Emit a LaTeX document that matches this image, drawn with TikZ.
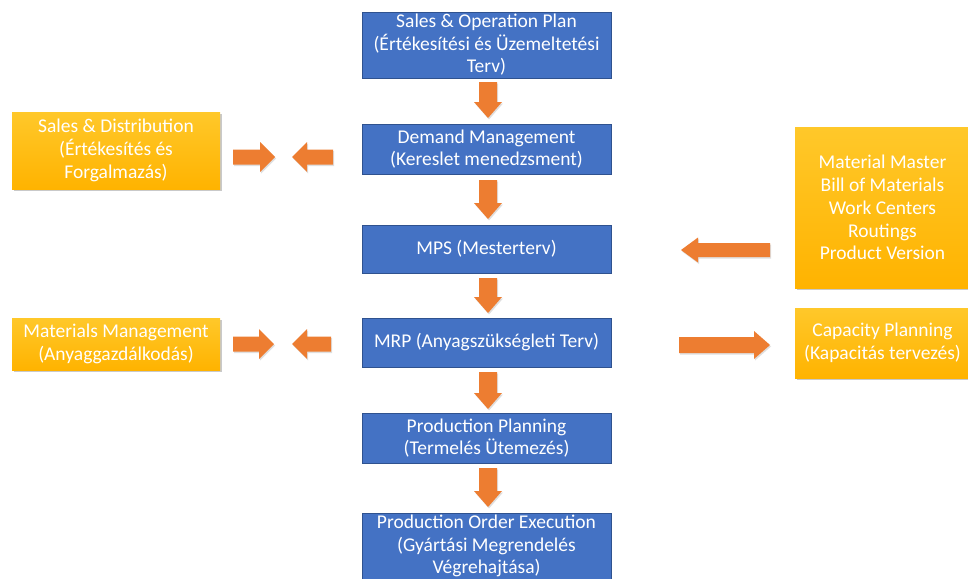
\documentclass[tikz,border=0pt]{standalone}
\usepackage{fontspec}
\setmainfont{Carlito}
\usetikzlibrary{shadows}
\definecolor{boxblue}{HTML}{4472C4}
\definecolor{boxblueline}{HTML}{2F528F}
\definecolor{arrorange}{HTML}{ED7D31}
\definecolor{goldtop}{HTML}{FFC82A}
\definecolor{goldbot}{HTML}{FFB300}
\tikzset{
  bluebox/.style={draw=boxblueline, line width=0.8pt, fill=boxblue, text=white,
    minimum width=249, inner sep=1pt, align=center,
    font=\fontsize{19.5}{22.5}\selectfont},
  goldbox/.style={top color=goldtop, bottom color=goldbot, draw=none, text=white,
    inner sep=1pt, align=center, font=\fontsize{19.5}{22.8}\selectfont,
    drop shadow={opacity=0.35, shadow xshift=1.5pt, shadow yshift=-2pt, fill=black!60}},
  arrfill/.style={fill=arrorange, drop shadow={opacity=0.25, shadow xshift=1pt, shadow yshift=-1.5pt}}
}
% down arrow: x, y top, y tip
\newcommand\darr[3]{\fill[arrfill] (#1-9,#2) -- (#1+9,#2) -- (#1+9,#3-16) -- (#1+14,#3-16) -- (#1,#3) -- (#1-14,#3-16) -- (#1-9,#3-16) -- cycle;}
% right arrow: x tail, x tip, y, shaft half, head half, head length
\newcommand\rarr[6]{\fill[arrfill] (#1,#3-#4) -- (#2-#6,#3-#4) -- (#2-#6,#3-#5) -- (#2,#3) -- (#2-#6,#3+#5) -- (#2-#6,#3+#4) -- (#1,#3+#4) -- cycle;}
% left arrow: x tail, x tip, y, shaft half, head half, head length
\newcommand\larr[6]{\fill[arrfill] (#1,#3-#4) -- (#2+#6,#3-#4) -- (#2+#6,#3-#5) -- (#2,#3) -- (#2+#6,#3+#5) -- (#2+#6,#3+#4) -- (#1,#3+#4) -- cycle;}
\begin{document}
\begin{tikzpicture}[x=1pt,y=-1pt]
\useasboundingbox[fill=white] (0,0) rectangle (968,578);
% central column
\node[bluebox, minimum height=66] (sop) at (486.5,45) {Sales \& Operation Plan\\(Értékesítési és Üzemeltetési\\Terv)};
\node[bluebox, minimum height=50] (dm) at (486.5,149) {Demand Management\\(Kereslet menedzsment)};
\node[bluebox, minimum height=48] (mps) at (486.5,249) {MPS (Mesterterv)};
\node[bluebox, minimum height=49] (mrp) at (486.5,342.5) {MRP (Anyagszükségleti Terv)};
\node[bluebox, minimum height=50] (pp) at (486.5,438) {Production Planning\\(Termelés Ütemezés)};
\node[bluebox, minimum height=66] (poe) at (486.5,546) {Production Order Execution\\(Gyártási Megrendelés\\Végrehajtása)};
% side boxes
\node[goldbox, minimum width=208, minimum height=77] (sd) at (116,150.5) {Sales \& Distribution\\(Értékesítés és\\Forgalmazás)};
\node[goldbox, minimum width=208, minimum height=52] (mm) at (116,344) {Materials Management\\(Anyaggazdálkodás)};
\node[goldbox, minimum width=175, minimum height=161] (md) at (882.5,207.5) {Material Master\\Bill of Materials\\Work Centers\\Routings\\Product Version};
\node[goldbox, minimum width=175, minimum height=70] (cp) at (882.5,343) {Capacity Planning\\(Kapacitás tervezés)};
% down arrows
\darr{488}{82}{118}
\darr{488}{180}{219}
\darr{488}{278}{313}
\darr{488}{372}{409}
\darr{488}{468}{507}
% horizontal arrows left side
\rarr{233}{275}{157}{7.5}{15}{15}
\larr{333}{292}{157}{7.5}{15}{15}
\rarr{233}{274}{344}{7.5}{15}{15}
\larr{331}{292}{344}{7.5}{15}{15}
% right side
\larr{770}{681}{250}{7}{12.5}{17}
\rarr{679}{770}{345}{8}{14}{16}
\end{tikzpicture}
\end{document}
